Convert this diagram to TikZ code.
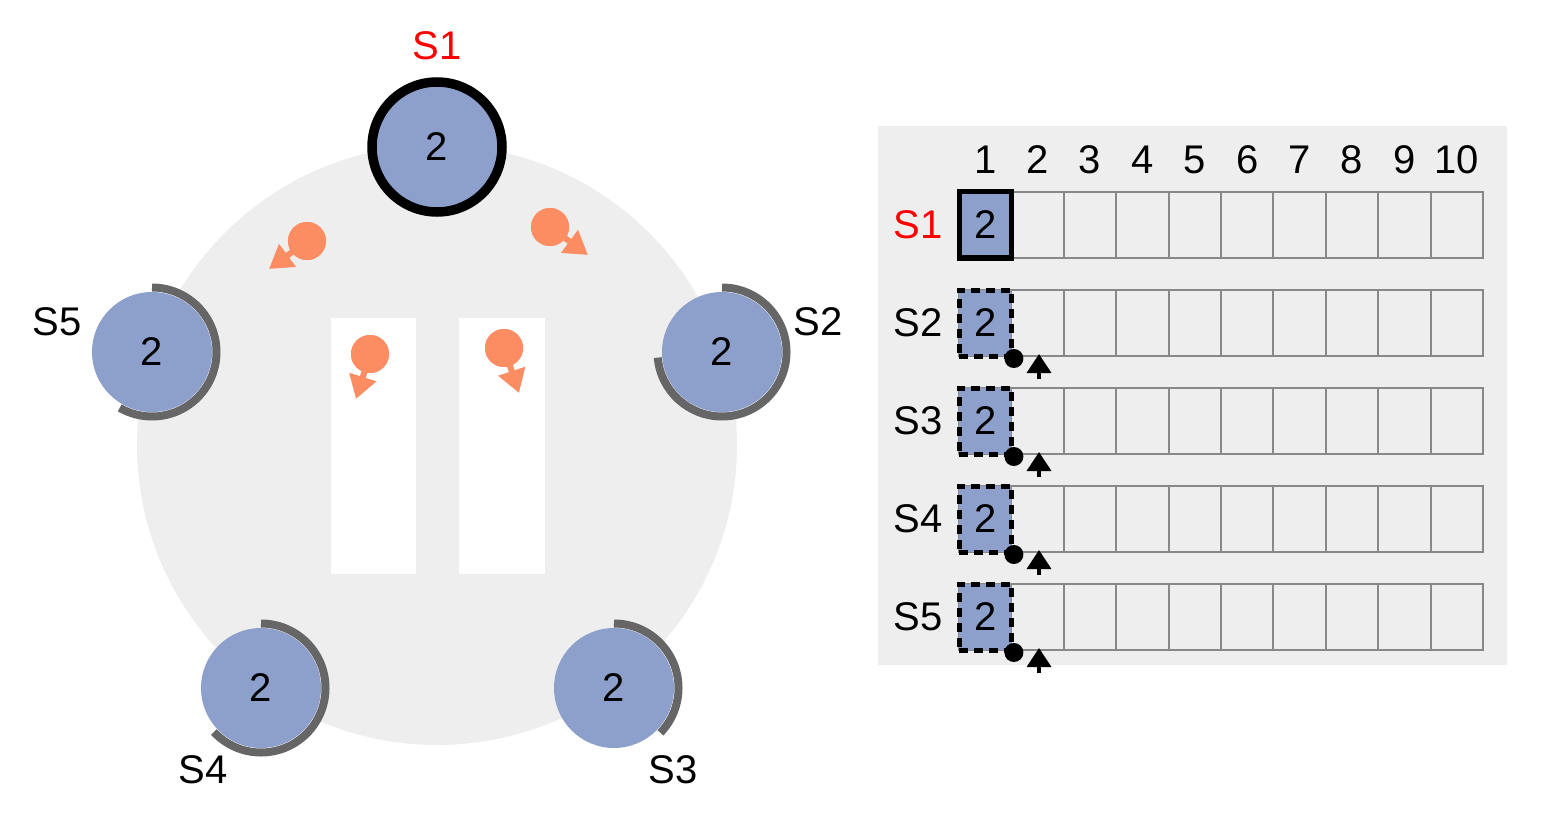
\documentclass[tikz,border=0pt]{standalone}
\usepackage{fontspec}
\setmainfont{Liberation Sans}
\usetikzlibrary{arrows.meta,calc}
\definecolor{bg}{HTML}{EEEEEE}
\definecolor{srv}{HTML}{8DA0CB}
\definecolor{msgc}{HTML}{FC8D62}
\definecolor{timer}{HTML}{666666}
\definecolor{gridc}{HTML}{888888}
\definecolor{ldr}{HTML}{FF0000}
\begin{document}
\begin{tikzpicture}[x=1pt,y=-1pt,
  txt/.style={inner sep=0pt, font=\fontsize{40}{42}\selectfont},
  server/.style={circle, fill=srv, minimum size=120pt, inner sep=0pt, font=\fontsize{40}{42}\selectfont},
  leader/.style={server, draw=black, line width=9.5pt, minimum size=130pt},
  timerarc/.style={draw=timer, line width=8pt},
  msg/.style={circle, fill=msgc, minimum size=38pt, inner sep=0pt},
  msgarrow/.style={draw=msgc, line width=6pt, -{Triangle[width=27pt,length=23pt]}},
  cell/.style={rectangle, draw=gridc, line width=2pt, minimum width=52.4pt, minimum height=66pt, inner sep=0pt, font=\fontsize{40}{42}\selectfont},
  entry/.style={cell, fill=srv},
  dot/.style={circle, fill=black, minimum size=19pt, inner sep=0pt},
  nextarrow/.style={draw=black, line width=3.5pt, -{Triangle[width=24pt,length=19pt]}},
]
\useasboundingbox (0,0) rectangle (1546,818);
% ---------- cluster ----------
\node[circle, fill=bg, minimum size=600pt, inner sep=0pt] (ring) at (437,445) {};
\fill[white] (331,318) rectangle (416,574);
\fill[white] (459,318) rectangle (545,574);

\coordinate (S1c) at (437,147);
\coordinate (S2c) at (722,352);
\coordinate (S3c) at (614,688);
\coordinate (S4c) at (261,688);
\coordinate (S5c) at (152,352);

\draw[timerarc] (S2c) ++(90:64.5pt) arc[start angle=90, end angle=-175, radius=64.5pt];
\draw[timerarc] (S3c) ++(90:64.5pt) arc[start angle=90, end angle=-44, radius=64.5pt];
\draw[timerarc] (S4c) ++(90:64.5pt) arc[start angle=90, end angle=-137, radius=64.5pt];
\draw[timerarc] (S5c) ++(90:64.5pt) arc[start angle=90, end angle=-120, radius=64.5pt];

\node[leader] (S1) at (S1c) {2};
\node[server] (S2) at (S2c) {2};
\node[server] (S3) at (S3c) {2};
\node[server] (S4) at (S4c) {2};
\node[server] (S5) at (S5c) {2};

\node[txt, text=ldr] (L1) at (437,46) {S1};
\node[txt] (L2) at (818,322) {S2};
\node[txt] (L3) at (673,770) {S3};
\node[txt] (L4) at (203,770) {S4};
\node[txt] (L5) at (57,322) {S5};

% messages
\coordinate (t1) at (269,269);
\coordinate (t2) at (588,255);
\coordinate (t3) at (356,399);
\coordinate (t4) at (519,393);
\node[msg] (m1) at (307,241) {};
\node[msg] (m2) at (550,227) {};
\node[msg] (m3) at (370,354) {};
\node[msg] (m4) at (504,348) {};
\draw[msgarrow] (m1.center) -- (t1);
\draw[msgarrow] (m2.center) -- (t2);
\draw[msgarrow] (m3.center) -- (t3);
\draw[msgarrow] (m4.center) -- (t4);
\node[msg] at (m1) {};
\node[msg] at (m2) {};
\node[msg] at (m3) {};
\node[msg] at (m4) {};

% ---------- logs ----------
\fill[bg] (878,126) rectangle (1507,665);
\foreach \k in {1,...,10} {
  \node[txt] (h\k) at ({985.2+52.4*(\k-1)},160) {\k};
}
\foreach \r in {1,...,5} {
  \foreach \k in {1,...,10} {
    \node[cell] (c\r-\k) at ({985.2+52.4*(\k-1)},{225+98*(\r-1)}) {};
  }
}
\node[txt, text=ldr] (R1) at (918,225) {S1};
\foreach \r in {2,...,5} {
  \node[txt] (R\r) at (918,{225+98*(\r-1)}) {S\r};
}
\node[entry, draw=black, line width=5pt] (e1) at (c1-1) {2};
\foreach \r in {2,...,5} {
  \node[entry, draw=black, line width=5pt, dash pattern=on 9pt off 6pt] (e\r) at (c\r-1) {2};
  \node[dot] (d\r) at (e\r.south east) {};
  \coordinate (nb\r) at ($(c\r-2.south)+(1.4,22)$);
  \coordinate (nt\r) at ($(c\r-2.south)+(1.4,-3)$);
  \draw[nextarrow] (nb\r) -- (nt\r);
}
\end{tikzpicture}
\end{document}
